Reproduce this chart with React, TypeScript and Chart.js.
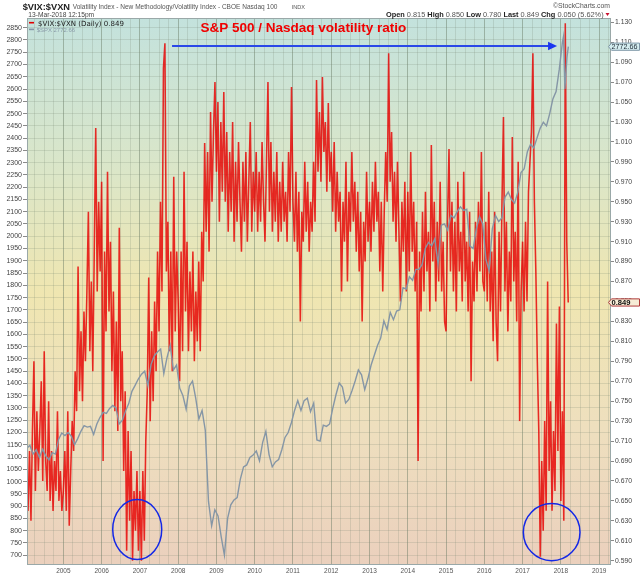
import React, { useEffect, useRef } from "react";
import { Chart, registerables } from "chart.js";

Chart.register(...registerables);

// ---------- axis / tick data ----------
const yearLabels = [2005, 2006, 2007, 2008, 2009, 2010, 2011, 2012, 2013, 2014, 2015, 2016, 2017, 2018, 2019];
const X_MIN = 2004.05;
const X_MAX = 2019.31;
const SPX_MIN = 660;
const SPX_MAX = 2889.6;
const SPX_TICK_FIRST = 700;
const SPX_TICK_LAST = 2850;
const SPX_TICK_STEP = 50;
const RATIO_MIN = 0.5857;
const RATIO_MAX = 1.1343;
const RATIO_TICK_FIRST = 0.59;
const RATIO_TICK_LAST = 1.13;
const RATIO_TICK_STEP = 0.01;

// ---------- $SPX (grey, left axis) : mid-month values ----------
const spxYears = [2004, 2005, 2006, 2007, 2008, 2009, 2010, 2011, 2012, 2013, 2014, 2015, 2016, 2017];
const spx2004 = [1135, 1148, 1112, 1130, 1098, 1132, 1105, 1088, 1118, 1112, 1172, 1198];
const spx2005 = [1188, 1200, 1185, 1150, 1175, 1205, 1228, 1222, 1225, 1192, 1235, 1262];
const spx2006 = [1282, 1278, 1298, 1310, 1300, 1235, 1250, 1288, 1318, 1368, 1392, 1418];
const spx2007 = [1438, 1450, 1392, 1478, 1512, 1528, 1540, 1440, 1505, 1555, 1455, 1475];
const spx2008 = [1380, 1350, 1295, 1390, 1410, 1340, 1255, 1290, 1210, 920, 820, 885];
const spx2009 = [860, 775, 700, 850, 905, 925, 935, 1010, 1060, 1068, 1098, 1108];
const spx2010 = [1125, 1085, 1160, 1205, 1110, 1060, 1080, 1090, 1130, 1180, 1200, 1240];
const spx2011 = [1290, 1330, 1290, 1330, 1340, 1285, 1320, 1170, 1165, 1230, 1225, 1235];
const spx2012 = [1300, 1355, 1402, 1385, 1320, 1335, 1370, 1410, 1455, 1435, 1375, 1420];
const spx2013 = [1475, 1515, 1555, 1585, 1655, 1620, 1690, 1660, 1695, 1700, 1790, 1785];
const spx2014 = [1835, 1820, 1865, 1865, 1885, 1950, 1975, 1960, 1990, 1885, 2045, 2050];
const spx2015 = [2025, 2085, 2075, 2100, 2120, 2105, 2110, 1960, 1950, 2030, 2080, 2050];
const spx2016 = [1905, 1860, 2030, 2085, 2060, 2075, 2160, 2180, 2150, 2135, 2180, 2260];
const spx2017 = [2275, 2345, 2375, 2360, 2400, 2440, 2465, 2450, 2500, 2560, 2590, 2680];
const spx2018Dates = [2018.04, 2018.07, 2018.105, 2018.16, 2018.195];
const spx2018 = [2790, 2815, 2600, 2730, 2772.66];
const spxByYear = [spx2004, spx2005, spx2006, spx2007, spx2008, spx2009, spx2010, spx2011, spx2012, spx2013, spx2014, spx2015, spx2016, spx2017];

// ---------- $VIX:$VXN (red, right axis) : bi-weekly values ----------
const ratioYears = [2004, 2005, 2006, 2007, 2008, 2009, 2010, 2011, 2012, 2013, 2014, 2015, 2016, 2017, 2018];
const RATIO_PER_YEAR = 26;
const RATIO_2004_OFFSET = 2;
const ratio2004 = [0.64, 0.70, 0.63, 0.72, 0.79, 0.66, 0.74, 0.68, 0.72, 0.77, 0.67, 0.80, 0.69, 0.66, 0.75, 0.65, 0.70, 0.64, 0.69, 0.66, 0.74, 0.65, 0.68, 0.64];
const ratio2005 = [0.66, 0.70, 0.64, 0.74, 0.625, 0.68, 0.73, 0.70, 0.78, 0.74, 0.885, 0.76, 0.82, 0.75, 0.84, 0.79, 0.86, 0.94, 0.80, 0.87, 0.78, 0.90, 1.024, 0.86, 0.95, 0.88];
const ratio2006 = [0.97, 0.69, 0.90, 0.82, 0.98, 0.84, 0.91, 0.78, 0.86, 0.74, 0.83, 0.72, 0.924, 0.75, 0.80, 0.68, 0.76, 0.60, 0.72, 0.63, 0.70, 0.59, 0.66, 0.62, 0.68, 0.60];
const ratio2007 = [0.66, 0.59, 0.68, 0.61, 0.71, 0.76, 0.874, 0.73, 0.82, 0.75, 0.85, 0.78, 0.90, 0.82, 0.95, 0.86, 1.084, 1.109, 0.88, 0.93, 0.80, 0.90, 0.78, 0.975, 0.82, 0.90];
const ratio2008 = [0.85, 0.77, 0.90, 0.80, 0.98, 0.84, 0.91, 0.80, 0.88, 0.82, 0.90, 0.79, 0.86, 0.81, 0.89, 0.80, 0.92, 0.87, 1.009, 0.92, 1.00, 0.90, 1.04, 0.95, 1.02, 1.07];
const ratio2009 = [0.98, 1.05, 0.93, 1.03, 0.96, 1.06, 0.95, 1.02, 0.92, 1.00, 0.94, 1.03, 0.91, 0.99, 0.93, 1.01, 0.95, 0.90, 0.99, 0.93, 1.00, 0.91, 0.97, 1.03, 0.92, 0.98];
const ratio2010 = [0.94, 1.00, 0.92, 0.98, 0.93, 1.01, 0.95, 0.91, 0.99, 1.07, 0.94, 1.01, 0.92, 0.98, 0.93, 1.00, 0.91, 0.97, 0.92, 0.99, 0.93, 0.96, 0.91, 1.00, 0.94, 1.065];
const ratio2011 = [0.95, 0.91, 0.98, 0.90, 0.96, 0.83, 0.94, 0.91, 0.99, 0.92, 0.97, 0.90, 0.95, 0.92, 0.99, 0.93, 1.072, 0.98, 1.04, 0.97, 1.075, 1.00, 1.03, 0.96, 1.049, 0.97];
const ratio2012 = [1.00, 0.94, 1.01, 0.92, 0.98, 0.93, 0.96, 0.86, 0.95, 0.91, 0.99, 0.87, 0.96, 0.92, 1.00, 0.93, 0.97, 0.90, 0.96, 0.88, 0.94, 0.83, 0.93, 0.89, 0.98, 0.91];
const ratio2013 = [0.95, 0.90, 0.97, 0.92, 0.99, 0.93, 0.96, 0.88, 0.95, 0.86, 0.94, 1.00, 0.95, 1.099, 0.97, 1.02, 0.93, 0.98, 0.91, 0.99, 0.92, 0.85, 0.95, 0.90, 0.97, 0.86];
const ratio2014 = [0.96, 0.88, 1.00, 0.90, 0.95, 0.86, 0.93, 0.69, 0.90, 0.84, 0.94, 0.86, 0.96, 0.88, 0.92, 0.84, 1.007, 0.89, 0.95, 0.85, 0.93, 0.87, 0.97, 0.86, 0.91, 0.83];
const ratio2015 = [0.82, 0.93, 1.003, 0.88, 0.95, 0.86, 0.93, 0.84, 0.97, 0.88, 0.92, 0.85, 0.98, 0.87, 0.91, 0.84, 0.94, 0.77, 0.89, 0.85, 0.93, 0.86, 0.95, 0.88, 1.00, 0.87];
const ratio2016 = [0.86, 0.93, 0.85, 0.96, 0.84, 0.90, 0.81, 0.94, 0.83, 0.79, 0.92, 0.84, 0.95, 1.035, 0.86, 0.93, 0.82, 0.90, 0.85, 1.015, 0.87, 0.92, 0.83, 0.99, 0.73, 0.86];
const ratio2017 = [0.91, 0.84, 0.93, 0.85, 0.96, 0.99, 1.02, 1.099, 0.95, 0.88, 0.79, 0.72, 0.594, 0.69, 0.62, 0.73, 0.64, 0.87, 0.68, 0.75, 0.64, 0.72, 0.66, 0.828, 0.70, 0.845];
const ratio2018 = [0.65, 0.74, 0.63, 1.129, 0.91, 0.849];
const ratioByYear = [ratio2004, ratio2005, ratio2006, ratio2007, ratio2008, ratio2009, ratio2010, ratio2011, ratio2012, ratio2013, ratio2014, ratio2015, ratio2016, ratio2017, ratio2018];

// ---------- header / legend text ----------
const SYMBOL = "$VIX:$VXN";
const TITLE = "Volatility Index - New Methodology/Volatility Index - CBOE Nasdaq 100";
const EXCHANGE = "INDX";
const DATE_TEXT = "13-Mar-2018 12:15pm";
const BRAND = "\u00A9StockCharts.com";
const QUOTE: [string, boolean][] = [
  ["Open ", true], ["0.815 ", false], ["High ", true], ["0.850 ", false], ["Low ", true], ["0.780 ", false],
  ["Last ", true], ["0.849 ", false], ["Chg ", true], ["0.050 (5.62%)", false],
];
const LEGEND_RATIO = "$VIX:$VXN (Daily) 0.849";
const LEGEND_SPX = "$SPX 2772.66";
const ANNOTATION = "S&P 500 / Nasdaq volatility ratio";
const LAST_SPX = 2772.66;
const LAST_RATIO = 0.849;

// annotation anchors (data coordinates)
const ARROW_FROM = 2007.84;
const ARROW_TO = 2017.9;
const ARROW_LEVEL = 1.1062;
const TEXT_AT = 2011.27;
const TEXT_LEVEL = 1.1243;
const CIRCLE_LEFT = { x0: 2006.29, x1: 2007.57, y0: 0.5911, y1: 0.6513 };
const CIRCLE_RIGHT = { x0: 2017.02, x1: 2018.5, y0: 0.590, y1: 0.6473 };

const RED = "rgba(230,0,0,0.82)";
const GREY = "#8596a6";

function fitFont(ctx: CanvasRenderingContext2D, text: string, weight: string, family: string, w: number) {
  ctx.font = `${weight} 10px ${family}`;
  const m = ctx.measureText(text).width;
  return `${weight} ${(10 * w / m).toFixed(2)}px ${family}`;
}

const bgPlugin = {
  id: "bgGradient",
  beforeDraw(chart: any) {
    const { ctx, chartArea: a } = chart;
    const g = ctx.createLinearGradient(0, a.top, 0, a.bottom);
    g.addColorStop(0, "#c3e2dd");
    g.addColorStop(0.28, "#dbe6c8");
    g.addColorStop(0.5, "#efe6b1");
    g.addColorStop(0.75, "#eedfbe");
    g.addColorStop(1, "#ebd0bd");
    ctx.save();
    ctx.fillStyle = g;
    ctx.fillRect(a.left, a.top, a.right - a.left, a.bottom - a.top);
    ctx.restore();
  },
};

const overlayPlugin = {
  id: "overlay",
  afterDraw(chart: any) {
    const { ctx, chartArea: a, scales } = chart;
    const xs = scales.x, yl = scales.ySpx, yr = scales.yRatio;
    const SANS = '"Liberation Sans", Arial, sans-serif';
    ctx.save();
    // plot border
    ctx.strokeStyle = "#9aa8a8";
    ctx.lineWidth = 1;
    ctx.strokeRect(a.left + 0.5, a.top + 0.5, a.right - a.left - 1, a.bottom - a.top - 1);

    // header
    ctx.textBaseline = "alphabetic";
    ctx.textAlign = "left";
    ctx.fillStyle = "#222";
    ctx.font = fitFont(ctx, SYMBOL, "bold", SANS, 47.3);
    ctx.fillText(SYMBOL, 22.7, 9.6);
    ctx.fillStyle = "#555";
    ctx.font = fitFont(ctx, TITLE, "normal", SANS, 205);
    ctx.fillText(TITLE, 72.7, 9.4);
    ctx.font = fitFont(ctx, EXCHANGE, "normal", SANS, 13.3);
    ctx.fillText(EXCHANGE, 291.7, 9.2);
    ctx.fillStyle = "#444";
    ctx.font = fitFont(ctx, DATE_TEXT, "normal", SANS, 66);
    ctx.fillText(DATE_TEXT, 28.3, 16.8);
    ctx.fillStyle = "#555";
    ctx.font = fitFont(ctx, BRAND, "normal", SANS, 57);
    ctx.fillText(BRAND, 553, 8.4);

    // quote line
    let total = 0;
    QUOTE.forEach(([t, b]) => { ctx.font = `${b ? "bold" : "normal"} 10px ${SANS}`; total += ctx.measureText(t).width; });
    const sz = 10 * 218 / total;
    let qx = 386;
    QUOTE.forEach(([t, b]) => {
      ctx.font = `${b ? "bold" : "normal"} ${sz.toFixed(2)}px ${SANS}`;
      ctx.fillStyle = b ? "#222" : "#555";
      ctx.fillText(t, qx, 16.8);
      qx += ctx.measureText(t).width;
    });
    ctx.fillStyle = "#c8102e";
    ctx.beginPath();
    ctx.moveTo(605.5, 13); ctx.lineTo(609.5, 13); ctx.lineTo(607.5, 16); ctx.closePath();
    ctx.fill();

    // legend
    ctx.lineWidth = 1.6;
    ctx.strokeStyle = "#e00000";
    ctx.beginPath(); ctx.moveTo(29, 22.7); ctx.lineTo(34, 22.7); ctx.stroke();
    ctx.fillStyle = "#222";
    ctx.font = fitFont(ctx, LEGEND_RATIO, "normal", '"DejaVu Sans", sans-serif', 86);
    ctx.fillText(LEGEND_RATIO, 38, 25.6);
    ctx.strokeStyle = GREY;
    ctx.beginPath(); ctx.moveTo(29, 29.4); ctx.lineTo(34, 29.4); ctx.stroke();
    ctx.fillStyle = "#8a9aa8";
    ctx.font = fitFont(ctx, LEGEND_SPX, "normal", SANS, 38.3);
    ctx.fillText(LEGEND_SPX, 36.7, 31.6);

    // annotation text
    ctx.fillStyle = "#f00000";
    ctx.textAlign = "center";
    ctx.textBaseline = "middle";
    ctx.font = fitFont(ctx, ANNOTATION, "bold", SANS, 206);
    ctx.fillText(ANNOTATION, xs.getPixelForValue(TEXT_AT), yr.getPixelForValue(TEXT_LEVEL));

    // arrow
    const ay = yr.getPixelForValue(ARROW_LEVEL);
    const ax0 = xs.getPixelForValue(ARROW_FROM);
    const ax1 = xs.getPixelForValue(ARROW_TO);
    ctx.strokeStyle = "#2a48e8";
    ctx.fillStyle = "#1a36f0";
    ctx.lineWidth = 1.8;
    ctx.beginPath(); ctx.moveTo(ax0, ay); ctx.lineTo(ax1 - 7, ay); ctx.stroke();
    ctx.beginPath(); ctx.moveTo(ax1, ay); ctx.lineTo(ax1 - 9, ay - 4.2); ctx.lineTo(ax1 - 9, ay + 4.2); ctx.closePath(); ctx.fill();

    // circles
    ctx.strokeStyle = "#1428e6";
    ctx.lineWidth = 1.5;
    [CIRCLE_LEFT, CIRCLE_RIGHT].forEach((c) => {
      const l = xs.getPixelForValue(c.x0), r = xs.getPixelForValue(c.x1);
      const t = yr.getPixelForValue(c.y1), b = yr.getPixelForValue(c.y0);
      ctx.beginPath();
      ctx.ellipse((l + r) / 2, (t + b) / 2, (r - l) / 2, (b - t) / 2, 0, 0, Math.PI * 2);
      ctx.stroke();
    });

    // last value tags
    ctx.textAlign = "left";
    ctx.textBaseline = "middle";
    const tag = (y: number, text: string, fill: string, stroke: string, color: string, w: number, weight: string) => {
      ctx.beginPath();
      ctx.moveTo(608.5, y);
      ctx.lineTo(611.5, y - 3.6);
      ctx.lineTo(639.5, y - 3.6);
      ctx.lineTo(639.5, y + 3.6);
      ctx.lineTo(611.5, y + 3.6);
      ctx.closePath();
      ctx.fillStyle = fill;
      ctx.fill();
      ctx.lineWidth = 1;
      ctx.strokeStyle = stroke;
      ctx.stroke();
      ctx.fillStyle = color;
      ctx.font = fitFont(ctx, text, weight, SANS, w);
      ctx.fillText(text, 611.5, y + 0.5);
    };
    tag(yl.getPixelForValue(LAST_SPX), LAST_SPX.toFixed(2), "#d6eef0", "#7d96a6", "#1e2a36", 26, "normal");
    tag(yr.getPixelForValue(LAST_RATIO), LAST_RATIO.toFixed(3), "#f6ecd6", "#b03a3a", "#111", 19, "bold");
    ctx.restore();
  },
};

export default function App() {
  const ref = useRef<HTMLCanvasElement | null>(null);

  useEffect(() => {
    if (!ref.current) return;
    const spxPoints: { x: number; y: number }[] = [];
    spxByYear.forEach((arr, i) => arr.forEach((v, m) => spxPoints.push({ x: spxYears[i] + (m + 0.5) / 12, y: v })));
    spx2018Dates.forEach((d, i) => spxPoints.push({ x: d, y: spx2018[i] }));

    const ratioPoints: { x: number; y: number }[] = [];
    ratioByYear.forEach((arr, i) => {
      const off = i === 0 ? RATIO_2004_OFFSET : 0;
      arr.forEach((v, k) => ratioPoints.push({ x: ratioYears[i] + (k + off) / RATIO_PER_YEAR, y: v }));
    });

    const quarterTicks: number[] = [];
    [yearLabels[0] - 1, ...yearLabels].forEach((y) => [0, 0.25, 0.5, 0.75].forEach((q) => {
      const v = y + q;
      if (v > X_MIN && v < X_MAX) quarterTicks.push(v);
    }));
    const spxTicks: number[] = [];
    for (let v = SPX_TICK_FIRST; v <= SPX_TICK_LAST; v += SPX_TICK_STEP) spxTicks.push(v);
    const ratioTicks: number[] = [];
    const nR = Math.round((RATIO_TICK_LAST - RATIO_TICK_FIRST) / RATIO_TICK_STEP);
    for (let i = 0; i <= nR; i++) ratioTicks.push(Math.round((RATIO_TICK_FIRST + i * RATIO_TICK_STEP) * 1000) / 1000);

    const tickFont = { family: '"Liberation Sans", Arial, sans-serif', size: 7 };

    const chart = new Chart(ref.current, {
      type: "line",
      data: {
        datasets: [
          { label: "$SPX", data: spxPoints, yAxisID: "ySpx", borderColor: GREY, borderWidth: 1.4, pointRadius: 0, tension: 0 },
          { label: "$VIX:$VXN", data: ratioPoints, yAxisID: "yRatio", borderColor: RED, borderWidth: 1.55, pointRadius: 0, tension: 0 },
        ],
      },
      options: {
        animation: false,
        responsive: false,
        maintainAspectRatio: false,
        layout: { padding: { top: 18, left: 0, right: 0, bottom: 0 } },
        plugins: { legend: { display: false }, tooltip: { enabled: false }, title: { display: false } },
        scales: {
          x: {
            type: "linear",
            min: X_MIN,
            max: X_MAX,
            afterBuildTicks: (s: any) => { s.ticks = quarterTicks.map((v) => ({ value: v })); },
            afterFit: (s: any) => { s.height = 11; },
            border: { display: false },
            grid: {
              drawTicks: false,
              lineWidth: 1,
              color: (c: any) => (c.tick && Number.isInteger(c.tick.value) ? "rgba(100,118,96,0.45)" : "rgba(115,130,112,0.2)"),
            },
            ticks: {
              autoSkip: false,
              maxRotation: 0,
              padding: 2,
              color: "#555",
              font: { ...tickFont, size: 6.5 },
              callback: (v: any) => (Number.isInteger(v) && yearLabels.includes(v) ? String(v) : ""),
            },
          },
          ySpx: {
            type: "linear",
            position: "left",
            min: SPX_MIN,
            max: SPX_MAX,
            afterBuildTicks: (s: any) => { s.ticks = spxTicks.map((v) => ({ value: v })); },
            afterFit: (s: any) => { s.width = 27; },
            border: { display: false },
            grid: { color: "rgba(115,130,112,0.2)", drawTicks: true, tickLength: 4, tickColor: "#8a8a8a" },
            ticks: { padding: 1, color: "#444", font: tickFont, callback: (v: any) => String(v) },
          },
          yRatio: {
            type: "linear",
            position: "right",
            min: RATIO_MIN,
            max: RATIO_MAX,
            afterBuildTicks: (s: any) => { s.ticks = ratioTicks.map((v) => ({ value: v })); },
            afterFit: (s: any) => { s.width = 29; },
            border: { display: false },
            grid: { drawOnChartArea: false, drawTicks: true, tickLength: 3, tickColor: "#8a8a8a" },
            ticks: { padding: 1, color: "#444", font: { ...tickFont, size: 6.8 }, callback: (v: any) => Number(v).toFixed(3) },
          },
        },
      } as any,
      plugins: [bgPlugin, overlayPlugin],
    });
    return () => chart.destroy();
  }, []);

  return (
    <div style={{ position: "absolute", left: 0, top: 0, width: 640, height: 576, background: "#fff" }}>
      <canvas ref={ref} width={640} height={576} style={{ display: "block", width: 640, height: 576 }} />
    </div>
  );
}
